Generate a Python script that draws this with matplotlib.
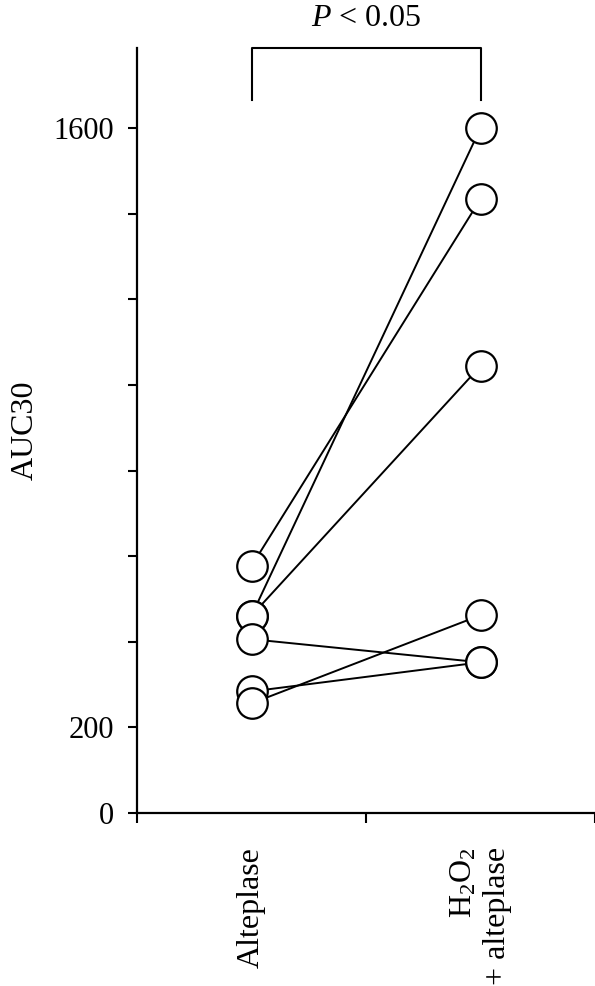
import matplotlib
matplotlib.use("Agg")
from matplotlib import pyplot as plt
import numpy as np

plt.rcParams['font.family'] = ['Liberation Serif', 'DejaVu Serif']
plt.rcParams['mathtext.fontset'] = 'custom'
plt.rcParams['mathtext.rm'] = 'Liberation Serif'
plt.rcParams['mathtext.it'] = 'Liberation Serif:italic'

# paired AUC30 values, one entry per subject
groups = ['Alteplase', 'H$_2$O$_2$\n+ alteplase']
alteplase = [577, 461, 461, 406, 284, 256]
h2o2_alteplase = [1434, 1600, 1044, 352, 352, 462]

yticks = [0, 200, 400, 600, 800, 1000, 1200, 1400, 1600]
ytick_labels = ['0', '200', '', '', '', '', '', '', '1600']
p_text = '$P$ < 0.05'

fig = plt.figure(figsize=(5.95, 9.86), dpi=100)
ax = fig.add_axes([137/595, 173/986, 458/595, 765/986])

xpos = [0.5, 1.5]

# lines first, circles on top
for a, b in zip(alteplase, h2o2_alteplase):
    ax.plot(xpos, [a, b], color='black', lw=1.4, zorder=2)
for a, b in zip(alteplase, h2o2_alteplase):
    ax.plot(xpos, [a, b], ls='none', marker='o', ms=22, mfc='white',
            mec='black', mew=1.6, zorder=3, clip_on=False)

ax.set_xlim(0, 2)
ax.set_ylim(0, 1787)

ax.spines['top'].set_visible(False)
ax.spines['right'].set_visible(False)
ax.spines['left'].set_linewidth(1.6)
ax.spines['bottom'].set_linewidth(1.6)

ax.set_yticks(yticks)
ax.set_yticklabels(ytick_labels, fontsize=22)
ax.tick_params(axis='y', direction='out', length=6.5, width=1.5, pad=10)

ax.set_xticks([0, 1, 2])
ax.set_xticklabels(['', '', ''])
ax.set_xticks(xpos, minor=True)
ax.set_xticklabels(groups, minor=True, rotation=90, fontsize=23,
                   multialignment='right')
ax.tick_params(axis='x', which='major', direction='out', length=7.5, width=1.5)
ax.tick_params(axis='x', which='minor', length=0, pad=24.5)

ax.set_ylabel('AUC30', fontsize=23)
ax.yaxis.set_label_coords(-0.212, 0.5)

# significance bracket
ytop = 1787
yleg = 1665
ax.plot([0.5, 0.5, 1.5, 1.5], [yleg, ytop, ytop, yleg], color='black',
        lw=1.5, clip_on=False)
ax.text(1.0, ytop + 35, p_text, ha='center', va='bottom', fontsize=23)

fig.savefig('out.png', dpi=100)
